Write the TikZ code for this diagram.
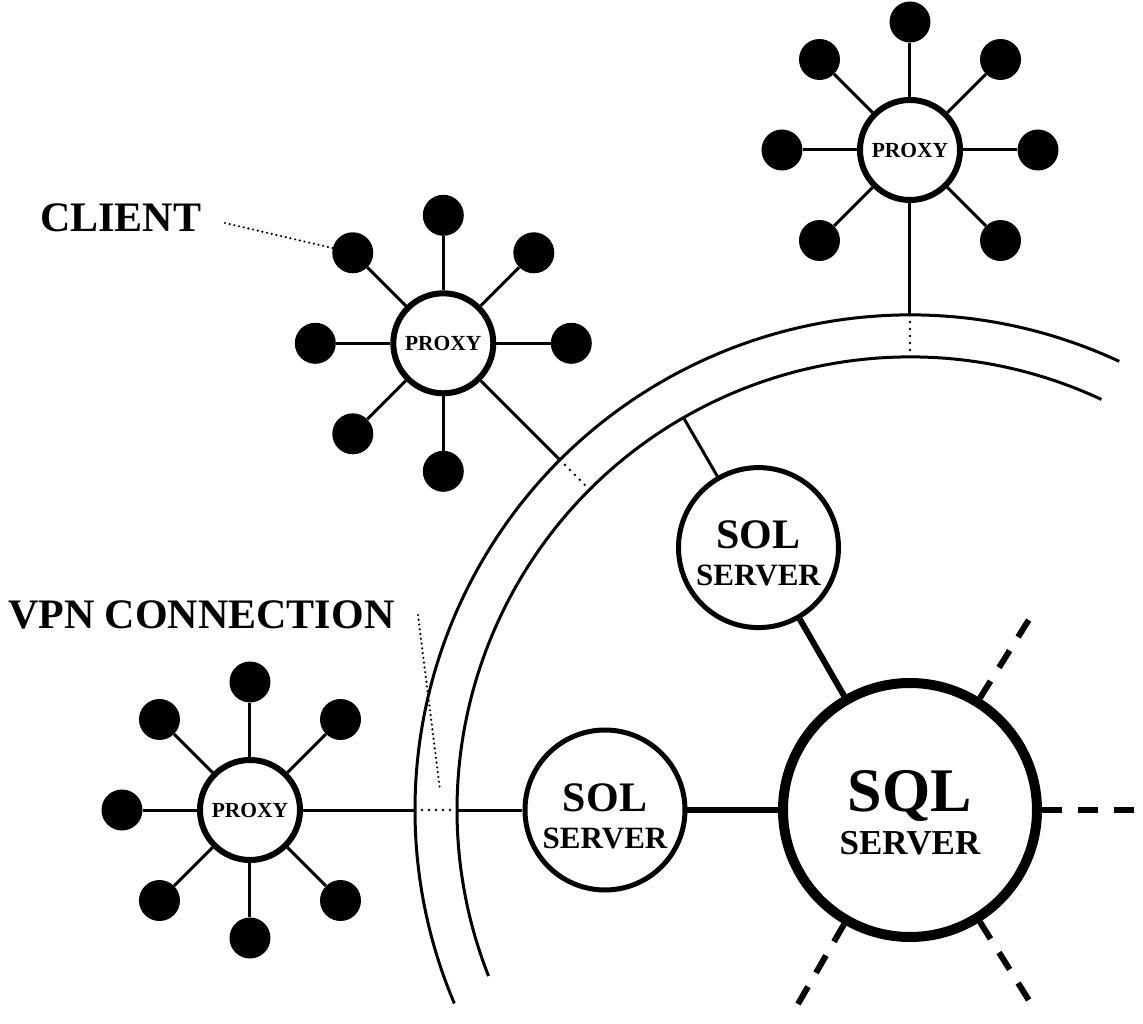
\documentclass[tikz,border=0pt]{standalone}
\usepackage{fontspec}
\setmainfont{Liberation Serif}
\begin{document}
\begin{tikzpicture}[x=1pt,y=1pt,
  ring/.style={line width=3pt},
  link/.style={line width=3pt},
  thicklink/.style={line width=6pt},
  dashlink/.style={line width=6pt,dash pattern=on 20pt off 16pt},
  gapdots/.style={line width=2.8pt,line cap=round,dash pattern=on 0pt off 7pt},
  leader/.style={line width=2.4pt,line cap=round,dash pattern=on 0pt off 4.8pt},
  proxy/.style={circle,draw,line width=6pt,minimum size=100pt,inner sep=0pt,fill=white,
    font=\bfseries\fontsize{21.5}{21.5}\selectfont},
  client/.style={circle,fill=black,minimum size=41pt,inner sep=0pt},
  solserver/.style={circle,draw,line width=5pt,minimum size=160pt,inner sep=0pt,fill=white},
  sqlserver/.style={circle,draw,line width=10pt,minimum size=254pt,inner sep=0pt,fill=white},
  soltxt/.style={anchor=base,inner sep=0pt,font=\bfseries\fontsize{42}{42}\selectfont},
  solsub/.style={anchor=base,inner sep=0pt,font=\bfseries\fontsize{31}{31}\selectfont},
  sqltxt/.style={anchor=base,inner sep=0pt,font=\bfseries\fontsize{62}{62}\selectfont},
  sqlsub/.style={anchor=base,inner sep=0pt,font=\bfseries\fontsize{35}{35}\selectfont},
  lbl/.style={anchor=base west,inner sep=0pt,font=\bfseries\fontsize{42}{42}\selectfont}
]
\useasboundingbox (-910,-213) rectangle (233,810);

% the two concentric arcs
\draw[ring] (65:495) arc[start angle=65,end angle=203,radius=495];
\draw[ring] (65:453) arc[start angle=65,end angle=201.5,radius=453];

% crossing points on the arcs
\foreach \a in {90,135,180} {
  \coordinate (o\a) at (\a:495);
  \coordinate (i\a) at (\a:453);
}
\coordinate (i120) at (120:453);

% proxies with their clients
\foreach \p/\ang/\conn in {p1/135/315, p2/90/270, p3/180/0} {
  \node[proxy] (\p) at (\ang:660) {PROXY};
  \foreach \a in {0,45,...,315} {
    \ifnum\a=\conn\relax\else
      \node[client] (\p-\a) at ([shift={(\a:128)}]\p.center) {};
      \draw[link] (\p) -- (\p-\a);
    \fi
  }
}

% servers
\node[sqlserver] (sql) at (0,0) {};
\node[sqltxt] (sqla) at ([yshift=-1pt]sql.center) {SQL};
\node[sqlsub] (sqlb) at ([yshift=-44pt]sql.center) {SERVER};

\node[solserver] (s1) at (120:303) {};
\node[soltxt] (s1a) at ([yshift=-1pt]s1.center) {SOL};
\node[solsub] (s1b) at ([yshift=-38pt]s1.center) {SERVER};

\node[solserver] (s2) at (180:305) {};
\node[soltxt] (s2a) at ([yshift=-1pt]s2.center) {SOL};
\node[solsub] (s2b) at ([yshift=-38pt]s2.center) {SERVER};

% connections
\draw[link] (p1) -- (o135);
\draw[gapdots] (o135) -- (i135);
\draw[link] (p2) -- (o90);
\draw[gapdots] (o90) -- (i90);
\draw[link] (p3) -- (o180);
\draw[gapdots] (o180) -- (i180);
\draw[link] (i180) -- (s2);
\draw[link] (i120) -- (s1);
\draw[thicklink] (s1) -- (sql);
\draw[thicklink] (s2) -- (sql);

% dashed outgoing links from the SQL server
\foreach \a in {58,0,-58,-120} {
  \coordinate (d\a) at (\a:225);
  \draw[dashlink] (sql.\a) -- (d\a);
}

% labels
\node[lbl] (clientlbl) at (-870,578) {CLIENT};
\coordinate (cl1) at (-685,587);
\draw[leader] (cl1) -- (p1-135);

\node[lbl] (vpnlbl) at (-902,181) {VPN CONNECTION};
\coordinate (v1) at (-492,195);
\coordinate (v2) at (-470,20);
\draw[leader] (v1) -- (v2);
\end{tikzpicture}
\end{document}
